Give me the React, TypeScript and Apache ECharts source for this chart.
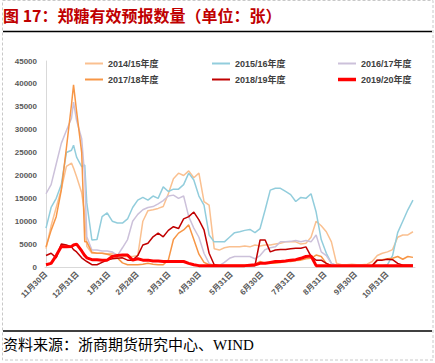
import React, { useEffect, useRef } from 'react';
import * as echarts from 'echarts';

// day offsets from 11月30日
const days = [0, 5, 10, 15, 20, 25, 27, 30, 35, 38, 40, 45, 50, 55, 60, 65, 70, 75, 80, 85, 90, 95, 100, 105, 110, 115, 120, 125, 130, 135, 140, 145, 150, 155, 160, 165, 170, 175, 180, 185, 190, 195, 200, 205, 210, 215, 220, 225, 230, 235, 240, 245, 250, 255, 260, 265, 270, 275, 280, 285, 290, 295, 300, 305, 310, 315, 320, 325, 330, 335, 340, 345, 350, 355, 360];

const labelDays = [0, 31, 62, 90, 121, 151, 182, 212, 243, 274, 304, 335];
const xLabels = ['11月30日', '12月31日', '1月31日', '2月28日', '3月31日', '4月30日', '5月31日', '6月30日', '7月31日', '8月31日', '9月30日', '10月31日'];

const seriesNames = ['2014/15年度', '2015/16年度', '2016/17年度', '2017/18年度', '2018/19年度', '2019/20年度'];
const seriesColors = ['#FAC090', '#92CDDC', '#CCC1DA', '#F79646', '#C00000', '#FF0000'];

const s1415 = [4000, 9000, 13000, 17000, 22000, 22700, 21600, 19700, 16200, 11500, 4500, 3000, 3000, 3000, 2900, 3000, 2700, 2300, 2300, 2300, 2500, 10000, 12300, 12500, 12800, 13200, 16000, 19300, 20500, 20000, 21000, 19500, 20500, 14300, 13500, 4000, 3700, 4200, 4400, 4400, 4400, 4600, 4400, 4800, 4600, 4800, 4800, 5000, 5200, 5500, 5500, 5500, 5000, 5200, 6500, 10000, 9000, 7700, 5500, 800, 500, 500, 600, 500, 500, 600, 1200, 2500, 3000, 3300, 3800, 6500, 7000, 7000, 7700];
const s1516 = [8500, 13000, 15000, 18000, 25000, 25500, 26600, 24000, 21900, 22300, 14000, 5900, 6000, 11000, 11800, 10000, 9600, 9600, 10500, 13000, 14600, 15200, 14600, 15500, 15000, 17500, 16500, 17000, 17000, 18000, 20500, 19000, 15500, 13500, 7000, 5500, 5500, 5500, 6500, 7500, 7700, 8000, 8200, 7500, 8400, 12500, 16800, 17200, 17200, 16500, 15800, 14300, 15200, 15000, 16000, 12000, 6000, 3000, 800, 300, 300, 300, 300, 300, 300, 300, 300, 300, 300, 500, 2500, 7500, 10000, 12500, 14600];
const s1617 = [16000, 18000, 22500, 27000, 29800, 32500, 36000, 32000, 28000, 19700, 6600, 3700, 3700, 3500, 3500, 3300, 2500, 4200, 6000, 10000, 11500, 12500, 13000, 13200, 13800, 14500, 15500, 15700, 15000, 15500, 11000, 8500, 6500, 3000, 800, 300, 300, 1000, 1900, 2300, 2300, 2300, 2300, 1800, 2500, 3800, 4200, 4400, 5500, 5500, 5600, 5800, 5500, 5800, 5500, 7000, 3300, 2500, 800, 400, 300, 300, 300, 300, 300, 300, 300, 300, 300, 300, 300, 400, 400, 400, 400];
const s1718 = [4400, 8000, 11000, 16800, 26000, 35500, 39800, 34000, 25000, 5500, 5500, 3200, 3000, 3000, 2800, 2500, 2000, 900, 500, 500, 500, 600, 800, 600, 500, 500, 1500, 6000, 7400, 8100, 9200, 6000, 2800, 1000, 500, 400, 400, 400, 400, 400, 400, 400, 400, 500, 1200, 800, 800, 800, 1000, 1200, 1200, 1400, 1500, 1800, 1900, 2600, 2300, 800, 300, 300, 300, 300, 300, 300, 300, 300, 300, 1500, 1600, 1800, 1900, 2300, 1700, 2300, 2100];
const s1819 = [2500, 3000, 2000, 5000, 4800, 4400, 3800, 3300, 2000, 1500, 1200, 500, 500, 1000, 1500, 1800, 1900, 2000, 1500, 1500, 2500, 4800, 5200, 6600, 7400, 6600, 8000, 8800, 8400, 10500, 11000, 12000, 10300, 8100, 3000, 500, 300, 300, 300, 300, 300, 300, 300, 300, 5900, 5900, 3300, 3700, 3800, 3800, 4000, 4100, 4100, 4400, 2300, 1500, 1500, 800, 300, 300, 300, 300, 300, 300, 300, 300, 300, 1500, 1500, 1700, 1600, 800, 400, 400, 400];
const s1920 = [500, 800, 2500, 4500, 4400, 4500, 4800, 5000, 3500, 2500, 2000, 1600, 1600, 1500, 1500, 2300, 2500, 2600, 2600, 1500, 1800, 1500, 1500, 1300, 1300, 1200, 1200, 1200, 1200, 1200, 800, 500, 300, 300, 300, 300, 300, 300, 300, 300, 300, 300, 400, 500, 800, 800, 1000, 1200, 1200, 1300, 1500, 1600, 1900, 2300, 2400, 300, 300, 300, 300, 300, 300, 300, 300, 300, 300, 300, 300, 300, 300, 300, 300, 300, 300, 300, 300];

const seriesValues = [s1415, s1516, s1617, s1718, s1819, s1920];
const seriesWidths = [1.5, 1.5, 1.5, 1.5, 1.5, 3];

const SANS = "'Liberation Sans','Noto Sans CJK SC',sans-serif";

export default function App() {
  const ref = useRef<HTMLDivElement>(null);
  useEffect(() => {
    const chart = echarts.init(ref.current!, null, { renderer: 'svg' });
    const colX = [85, 212, 338];
    const rowY = [59, 75];
    chart.setOption({
      animation: false,
      backgroundColor: '#ffffff',
      grid: { left: 45, right: 20, top: 61, bottom: 96, containLabel: false },
      legend: seriesNames.map((n, i) => ({
        data: [n],
        left: colX[i % 3],
        top: rowY[Math.floor(i / 3)],
        icon: 'rect',
        itemWidth: 18,
        itemHeight: i === 5 ? 3.5 : 2,
        padding: 0,
        textStyle: { fontSize: 9, fontWeight: 'bold', color: '#404040', fontFamily: SANS },
      })),
      xAxis: {
        type: 'value',
        min: -1,
        max: 362,
        axisLine: { show: true, lineStyle: { color: '#D9D9D9', width: 1 } },
        axisTick: { show: false },
        splitLine: { show: false },
        axisLabel: {
          customValues: labelDays,
          formatter: (v: number) => {
            const k = labelDays.indexOf(v);
            return k >= 0 ? xLabels[k] : '';
          },
          rotate: 45,
          fontSize: 8,
          fontWeight: 'bold',
          color: '#595959',
          fontFamily: SANS,
          margin: 6,
        },
      },
      yAxis: {
        type: 'value',
        min: 0,
        max: 45000,
        interval: 5000,
        axisLine: { show: true, lineStyle: { color: '#D9D9D9', width: 1 } },
        axisTick: { show: false },
        splitLine: { show: false },
        axisLabel: {
          formatter: (v: number) => String(v),
          fontSize: 8,
          fontWeight: 'bold',
          color: '#595959',
          fontFamily: SANS,
          margin: 8,
        },
      },
      series: seriesNames.map((n, i) => ({
        name: n,
        type: 'line',
        symbol: 'none',
        showSymbol: false,
        color: seriesColors[i],
        lineStyle: { color: seriesColors[i], width: seriesWidths[i] },
        data: days.map((d, j) => [d, seriesValues[i][j]]),
      })),
      graphic: [
        {
          type: 'rect',
          shape: { x: 2.5, y: 0.5, width: 430.5, height: 359.5 },
          style: { fill: 'none', stroke: '#C8C8C8', lineWidth: 1, lineDash: [3, 2] },
          silent: true,
        },
        {
          type: 'text',
          x: 3,
          y: 15,
          style: {
            text: '图 17：郑糖有效预报数量（单位：张）',
            fontSize: 16,
            fontWeight: 'bold',
            fontFamily: "'Noto Sans CJK SC',sans-serif",
            fill: '#C00000',
            verticalAlign: 'middle',
          },
        },
        {
          type: 'line',
          shape: { x1: 3, y1: 31.5, x2: 432, y2: 31.5 },
          style: { stroke: '#000000', lineWidth: 1.3 },
        },
        {
          type: 'line',
          shape: { x1: 3, y1: 331, x2: 432, y2: 331 },
          style: { stroke: '#000000', lineWidth: 1.3 },
        },
        {
          type: 'text',
          x: 3,
          y: 345,
          style: {
            text: '资料来源：浙商期货研究中心、WIND',
            fontSize: 15,
            fontFamily: "'Liberation Serif','Noto Sans CJK SC',serif",
            fill: '#000000',
            verticalAlign: 'middle',
          },
        },
      ],
    });
    return () => chart.dispose();
  }, []);
  return (
    <div
      ref={ref}
      style={{ position: 'absolute', left: 0, top: 0, width: 435, height: 363, background: '#ffffff' }}
    />
  );
}
